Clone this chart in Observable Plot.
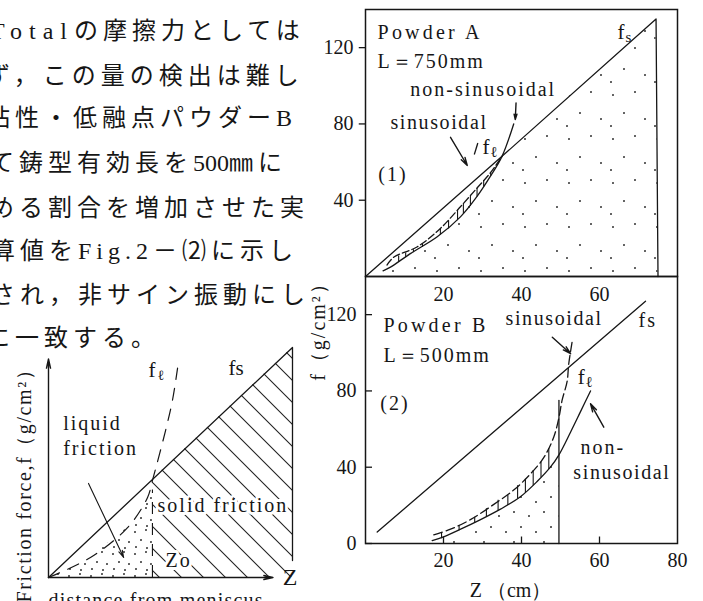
<!DOCTYPE html>
<html><head><meta charset="utf-8">
<script src="https://cdn.jsdelivr.net/npm/d3@7"></script>
<script src="https://cdn.jsdelivr.net/npm/@observablehq/plot@0.6"></script>
<style>
html,body{margin:0;padding:0;background:#fff;}
#page{position:relative;width:703px;height:601px;overflow:hidden;background:#fff;}
#para{position:absolute;left:0;top:8px;font-family:"Noto Sans CJK JP";font-size:24px;line-height:42.7px;color:#161616;white-space:nowrap;}
#para div{position:relative;letter-spacing:5px;}
#para .lat{font-family:"Liberation Serif";}
#left{position:absolute;left:0;top:330px;}
#right{position:absolute;left:300px;top:0;}
g[fill="#161617"] text{letter-spacing:2px;}
g[fill="#161618"] text{letter-spacing:3.2px;}
g[fill="#161619"] text{letter-spacing:1.6px;}
g[fill="#16161a"] text{letter-spacing:1.2px;}
</style></head><body>
<div id="page"><div id="para"></div><div id="left"></div><div id="right"></div></div>
<script>
// ---------- paragraph (cropped Japanese text column) ----------
const para = [
  "Totalの摩擦力としては",
  "ず，この量の検出は難し",
  "粘性・低融点パウダーB",
  "て鋳型有効長を500㎜に",
  "める割合を増加させた実",
  "算値をFig.2－⑵に示し",
  "され，非サイン振動にし",
  "に一致する。"
];
const paraIndent = [-10, -14, -14, -10, -10, -9, -9, -14];
const latinGap = {"Total": 7, "B": 2, "500": 0, "Fig.2": 5};

// ---------- schematic (left) ----------
const fsL_x = [0, 10, 10];
const fsL_y = [0, 10, 0.74];
const flL_x = [0, 1.72, 3.24, 4.06, 4.26, 4.8, 5.08, 5.29];
const flL_y = [0, 0.87, 2.17, 3.48, 4.22, 6.4, 7.7, 9.1];
const zo = 4.26, zoTop = 3.8;
const hatchL_x = [4.26, 10];
const hatchL_y = [4.26, 10];

// ---------- axes of Fig. (1) and (2) ----------
const zTicks = [20, 40, 60, 80];
const zTicksTop = [20, 40, 60];
const zInner = [20, 40, 60];
const fTicksTop = [40, 80, 120];
const fTicksBottom = [0, 40, 80, 120];

// ---------- Fig. (1) Powder A, L=750mm ----------
const fsA_z = [0, 35, 74.5, 75];
const fsA_f = [0, 63, 135, 0];
const flA_z = [4.5, 6.4, 11.5, 18.4, 24.4, 28.6, 32, 35, 38];
const flA_f = [3, 4.9, 12, 20.8, 31.4, 42, 52.5, 63, 80];
const sinA_z = [5.5, 7.3, 13.2, 19.2, 24.4, 28.6, 32, 35];
const sinA_f = [6, 10.2, 15.5, 25.2, 36.7, 46.4, 54.3, 63];
const rungA_z = [8.5, 10.3, 12.3, 14.6, 19.2, 21.3, 23.6, 25.1, 26.9, 28.6, 30.3, 32.1];
const rungA_top = [11, 12.6, 14.3, 17.5, 25.2, 29.5, 35, 38.5, 42.3, 46.4, 50.5, 54.5];
const rungA_bot = [7.6, 10.2, 12.8, 15.5, 22, 25.2, 29.5, 33, 37, 42, 47.2, 52.8];

// ---------- Fig. (2) Powder B, L=500mm ----------
const fsB_z = [3, 71.8];
const fsB_f = [6, 127];
const flB_z = [17.1, 20, 24.4, 29.5, 34.6, 39.7, 44, 47.4, 49.6, 52.6, 55.1, 57.7];
const flB_f = [1.5, 3.5, 7.5, 12.5, 18, 24.5, 32.5, 40, 46.5, 58.5, 69, 80];
const wallB_z = [49.6, 49.6];
const wallB_f = [0, 75];
const sinB_z = [17.5, 21.8, 26.9, 32.9, 38, 42.3, 45.7, 48.3, 49.6, 50.4, 51.7, 52.1, 53];
const sinB_f = [4.5, 7.5, 12.5, 20.5, 28, 36.5, 45, 56, 66, 75, 85, 94, 106];
const rungB_z = [19.5, 24, 28, 31, 34, 36.5, 39, 41, 43, 45, 47];
const rungB_top = [6, 9.5, 14, 18.5, 23, 25.5, 30.5, 34, 38.5, 43, 50];
const rungB_bot = [2.8, 7, 11, 14, 17.3, 20.2, 23.5, 26.5, 30.5, 34.8, 39];

// annotation labels (data units)
const labelA = ["Powder A", "L＝750mm", "non-sinusoidal", "sinusoidal", "(1)"];
const labelA_z = [3.1, 3.1, 11.5, 6.4, 3.3];
const labelA_f = [127.9, 112.6, 97.9, 80.5, 53.2];
const labelB = ["Powder B", "L＝500mm", "(2)", "sinusoidal", "fs", "non-", "sinusoidal"];
const labelB_z = [4.6, 4.6, 3.8, 35.9, 70, 55.1, 53.3];
const labelB_f = [114.3, 98.6, 73.4, 118, 117, 50.3, 37.2];
const arrowsA = [[21.8, 73, 26.1, 58.2], [38.6, 91, 38.4, 82.3]];
const arrowsB = [[47.9, 108.2, 52.6, 99.5], [61.1, 61, 57.7, 73.3]];
const dashA = [[27.9, 64, 28.8, 70]];

// ================= build =================
const ink = "#161616";
const WIDE = "#161617", WIDER = "#161618", YLAB = "#161619", NARROW = "#16161a";
const paraEl = document.getElementById("para");
para.forEach((line, i) => {
  const div = document.createElement("div");
  div.style.left = paraIndent[i] + "px";
  line.split(/([A-Za-z0-9.]+)/).forEach(part => {
    if (!part) return;
    const sp = document.createElement("span");
    if (/^[A-Za-z0-9.]+$/.test(part)) {
      sp.className = "lat";
      sp.style.letterSpacing = (latinGap[part] ?? 2) + "px";
    }
    sp.textContent = part;
    div.appendChild(sp);
  });
  paraEl.appendChild(div);
});

const zip2 = (xs, ys) => xs.map((x, i) => ({x, y: ys[i]}));
const rows = (panel, zs, fs) => zs.map((z, i) => ({panel, z, f: fs[i]}));
const tickRows = (panel, vs) => vs.map(v => ({panel, v}));
const labRows = (panel, ts, zs, fs) => ts.map((t, i) => ({panel, t, z: zs[i], f: fs[i]}));
const arrRows = (panel, as) => as.map(([z1, f1, z2, f2]) => ({panel, z1, f1, z2, f2}));
const rungRows = (panel, zs, tops, bots) => zs.map((z, i) => ({panel, z, top: tops[i], bot: bots[i]}));

// ---- left schematic
const fsL = zip2(fsL_x, fsL_y);
const flL = zip2(flL_x, flL_y);
const stipL = flL.filter(d => d.x <= zo);
const hatchL = zip2(hatchL_x, hatchL_y);
const serif = "Liberation Serif";

const left = Plot.plot({
  width: 310, height: 271, marginLeft: 48, marginRight: 18, marginTop: 17, marginBottom: 24,
  x: {domain: [0, 10], axis: null}, y: {domain: [0, 10], axis: null},
  style: {background: "transparent", fontFamily: serif, color: ink},
  marks: [
    Plot.areaY(stipL, {x: "x", y: "y", fill: "#fe0001"}),
    Plot.areaY(hatchL, {x: "x", y: "y", fill: "#fe0002"}),
    Plot.line(fsL, {x: "x", y: "y", stroke: ink, strokeWidth: 1.3}),
    Plot.line(flL, {x: "x", y: "y", curve: "catmull-rom", stroke: ink, strokeWidth: 1.2, strokeDasharray: "12,9"}),
    Plot.ruleX([zo], {y1: 0, y2: zoTop, stroke: ink, strokeWidth: 1.1, strokeDasharray: "12,9"}),
    Plot.arrow([{x1: 0, y1: 0, x2: 0, y2: 9.5}, {x1: 0, y1: 0, x2: 9.2, y2: 0}],
      {x1: "x1", y1: "y1", x2: "x2", y2: "y2", stroke: ink, strokeWidth: 1.4, headLength: 10, headAngle: 25}),
    Plot.arrow([{x1: 1.64, y1: 4.09, x2: 3.08, y2: 0.87}],
      {x1: "x1", y1: "y1", x2: "x2", y2: "y2", stroke: ink, strokeWidth: 1.1, headLength: 10, headAngle: 30}),
    Plot.text([{x: 0.6, y: 6.2, t: "liquid\nfriction"}], {x: "x", y: "y", text: "t", textAnchor: "start", fontSize: 20, lineHeight: 1.25, fill: WIDE}),
    Plot.text([{x: 4.47, y: 3.13, t: "solid friction"}, {x: 4.8, y: 0.74, t: "Zo"}], {x: "x", y: "y", text: "t", textAnchor: "start", fontSize: 20, fill: WIDE, stroke: "white", strokeWidth: 6}),
    Plot.text([{x: 9.6, y: 0, t: "Z"}], {x: "x", y: "y", text: "t", textAnchor: "start", fontSize: 24, fill: ink}),
    Plot.text([{x: 7.38, y: 9.09, t: "fs"}, {x: 4.1, y: 9.0, t: "f"}], {x: "x", y: "y", text: "t", textAnchor: "start", fontSize: 21, fill: ink}),
    Plot.text([{x: 4.1, y: 9.0, t: "ℓ"}], {x: "x", y: "y", text: "t", textAnchor: "start", fontSize: 14, dx: 9, dy: 5, fill: ink}),
    Plot.text(["Friction force,f（g/cm²）"], {frameAnchor: "left", text: d => d, textAnchor: "middle", rotate: -90, dx: -24, dy: 18, fontSize: 20, fill: YLAB}),
    Plot.text(["distance from meniscus"], {frameAnchor: "bottom-left", text: d => d, textAnchor: "start", lineAnchor: "middle", dy: 23, fontSize: 20, fill: NARROW})
  ]
});
document.getElementById("left").appendChild(left);

// ---- right: two stacked panels
const fsA = rows("1", fsA_z, fsA_f);
const flA = rows("1", flA_z, flA_f);
const sinA = rows("1", sinA_z, sinA_f);
const stippleA = [{panel: "1", z: 0, f: 0}, ...flA.filter(d => d.z <= 35), ...fsA.filter(d => d.z > 35)];
const fsB = rows("2", fsB_z, fsB_f);
const flB = rows("2", flB_z, flB_f);
const sinB = rows("2", sinB_z, sinB_f);
const wallB = rows("2", wallB_z, wallB_f);
const stippleB = flB.filter(d => d.z <= wallB_z[0]);
const rungs = [...rungRows("1", rungA_z, rungA_top, rungA_bot), ...rungRows("2", rungB_z, rungB_top, rungB_bot)];
const arrows = [...arrRows("1", arrowsA), ...arrRows("2", arrowsB)];
const dashes = arrRows("1", dashA);
const allLabels = [...labRows("1", labelA, labelA_z, labelA_f), ...labRows("2", labelB, labelB_z, labelB_f)];
const labelsWide = allLabels.filter(d => !d.t.startsWith("Powder") && d.t !== "sinusoidal");
const labelsSin = allLabels.filter(d => d.t === "sinusoidal");
const labelsPowder = allLabels.filter(d => d.t.startsWith("Powder"));
const fLabels = [{panel: "1", z: 64.6, f: 127.9, sub: "s", t: "f"}, {panel: "1", z: 30, f: 68, sub: "ℓ", t: "f"}, {panel: "2", z: 54.4, f: 87, sub: "ℓ", t: "f"}];
const line = (data, extra = {}) => Plot.line(data, {x: "z", y: "f", fy: "panel", stroke: ink, strokeWidth: 1.3, ...extra});

const right = Plot.plot({
  width: 403, height: 601, marginLeft: 65, marginRight: 26, marginTop: 9, marginBottom: 58,
  x: {domain: [0, 80], axis: null},
  y: {domain: [0, 140], axis: null},
  fy: {domain: ["1", "2"], padding: 0, axis: null},
  style: {background: "transparent", fontFamily: serif, color: ink},
  marks: [
    Plot.areaY(stippleA, {x: "z", y: "f", fy: "panel", fill: "#fe0003"}),
    Plot.areaY(stippleB, {x: "z", y: "f", fy: "panel", fill: "#fe0004"}),
    Plot.frame({stroke: ink, strokeWidth: 1.5}),
    line(fsA), line(flA, {curve: "catmull-rom"}), line(sinA, {curve: "catmull-rom", strokeDasharray: "7,3"}),
    line(fsB), line(flB, {curve: "catmull-rom"}), line(wallB), line(sinB, {curve: "catmull-rom", strokeDasharray: "9,4"}),
    Plot.link(rungs, {x1: "z", x2: "z", y1: "top", y2: "bot", fy: "panel", stroke: ink, strokeWidth: 1.1}),
    Plot.link(dashes, {x1: "z1", y1: "f1", x2: "z2", y2: "f2", fy: "panel", stroke: ink, strokeWidth: 1.3}),
    Plot.arrow(arrows, {x1: "z1", y1: "f1", x2: "z2", y2: "f2", fy: "panel", stroke: ink, strokeWidth: 1.4, headLength: 9, headAngle: 30}),
    // y ticks: outward in (1), inward in (2)
    Plot.ruleY(tickRows("1", fTicksTop), {y: "v", fy: "panel", x1: -1.6, x2: 0, stroke: ink, strokeWidth: 1.3}),
    Plot.ruleY(tickRows("2", fTicksBottom), {y: "v", fy: "panel", x1: 0, x2: 1.8, stroke: ink, strokeWidth: 1.3}),
    Plot.text(tickRows("1", fTicksTop), {x: 0, y: "v", fy: "panel", text: "v", textAnchor: "end", dx: -12, fontSize: 20, fill: ink}),
    Plot.text(tickRows("2", fTicksBottom), {x: 0, y: "v", fy: "panel", text: "v", textAnchor: "end", dx: -9, fontSize: 20, fill: ink}),
    // x ticks
    Plot.ruleX(tickRows("2", zInner), {x: "v", y1: 0, y2: 3.4, fy: "panel", stroke: ink, strokeWidth: 1.3}),
    Plot.text(tickRows("2", zTicks), {x: "v", fy: "panel", frameAnchor: "bottom", lineAnchor: "middle", dy: 17, text: "v", fontSize: 20, fill: ink}),
    Plot.text(tickRows("2", zTicksTop), {x: "v", fy: "panel", frameAnchor: "top", lineAnchor: "middle", dy: 18, text: "v", fontSize: 20, fill: ink}),
    Plot.text([{panel: "2"}], {fy: "panel", frameAnchor: "bottom", lineAnchor: "middle", dx: -11, dy: 47, text: () => "Z （cm）", fontSize: 20, fill: ink}),
    Plot.text([{panel: "2"}], {fy: "panel", frameAnchor: "top-left", textAnchor: "middle", dx: -55, dy: 50, rotate: -90, text: () => "f（g/cm²）", fontSize: 20, fill: WIDE}),
    // annotations
    Plot.text(labelsPowder, {x: "z", y: "f", fy: "panel", text: "t", textAnchor: "start", fontSize: 20, fill: WIDER}),
    Plot.text(labelsWide, {x: "z", y: "f", fy: "panel", text: "t", textAnchor: "start", fontSize: 20, fill: WIDE}),
    Plot.text(labelsSin, {x: "z", y: "f", fy: "panel", text: "t", textAnchor: "start", fontSize: 20, fill: YLAB}),
    Plot.text(fLabels, {x: "z", y: "f", fy: "panel", text: "t", textAnchor: "start", fontSize: 21, fill: ink}),
    Plot.text(fLabels, {x: "z", y: "f", fy: "panel", text: "sub", textAnchor: "start", fontSize: 15, dx: 8, dy: 5, fill: ink})
  ]
});
document.getElementById("right").appendChild(right);

// ---- fill patterns (stipple dots and hatching)
const NS = "http://www.w3.org/2000/svg";
function makePattern(svg, id, size, build) {
  let defs = svg.querySelector("defs");
  if (!defs) { defs = document.createElementNS(NS, "defs"); svg.insertBefore(defs, svg.firstChild); }
  const p = document.createElementNS(NS, "pattern");
  p.setAttribute("id", id);
  p.setAttribute("patternUnits", "userSpaceOnUse");
  p.setAttribute("width", size);
  p.setAttribute("height", size);
  build(p);
  defs.appendChild(p);
}
function dotPattern(svg, id, size, pts) {
  makePattern(svg, id, size, p => pts.forEach(([x, y]) => {
    const c = document.createElementNS(NS, "circle");
    c.setAttribute("cx", x); c.setAttribute("cy", y); c.setAttribute("r", 0.95); c.setAttribute("fill", "#222");
    p.appendChild(c);
  }));
}
function paint(svg, marker, fill) {
  svg.querySelectorAll(`[fill="${marker}"]`).forEach(el => {
    el.setAttribute("fill", fill);
    el.querySelectorAll("path").forEach(p => p.setAttribute("fill", fill));
  });
}
const leftSvg = left.tagName.toLowerCase() === "svg" ? left : left.querySelector("svg");
const rightSvg = right.tagName.toLowerCase() === "svg" ? right : right.querySelector("svg");
dotPattern(leftSvg, "dotsL", 22, [[3, 4], [14, 2], [9, 12], [19, 14], [4, 19], [15, 20]]);
makePattern(leftSvg, "hatchL", 22, p => {
  const path = document.createElementNS(NS, "path");
  path.setAttribute("d", "M-11,-11L33,33M-11,11L11,33M11,-11L33,11");
  path.setAttribute("stroke", "#222"); path.setAttribute("stroke-width", "1.1"); path.setAttribute("fill", "none");
  p.appendChild(path);
});
dotPattern(rightSvg, "dotsA", 44, [[5, 7], [27, 4], [16, 25], [37, 31], [3, 38]]);
dotPattern(rightSvg, "dotsB", 30, [[4, 5], [19, 9], [11, 20], [26, 25]]);
paint(leftSvg, "#fe0001", "url(#dotsL)");
paint(leftSvg, "#fe0002", "url(#hatchL)");
paint(rightSvg, "#fe0003", "url(#dotsA)");
paint(rightSvg, "#fe0004", "url(#dotsB)");
</script>
</body></html>
